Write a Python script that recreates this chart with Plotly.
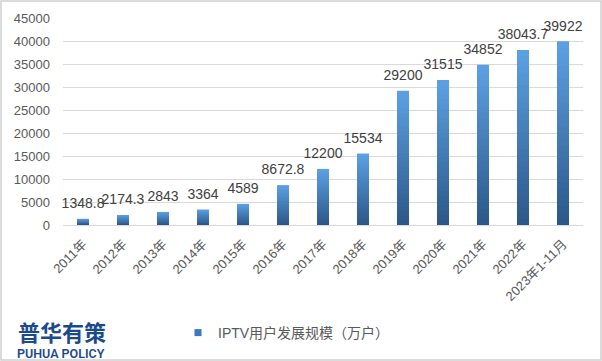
import plotly.graph_objects as go

categories = ["2011年", "2012年", "2013年", "2014年", "2015年", "2016年", "2017年",
              "2018年", "2019年", "2020年", "2021年", "2022年", "2023年1-11月"]
values = [1348.8, 2174.3, 2843, 3364, 4589, 8672.8, 12200, 15534, 29200, 31515, 34852, 38043.7, 39922]
value_labels = ["1348.8", "2174.3", "2843", "3364", "4589", "8672.8", "12200", "15534",
                "29200", "31515", "34852", "38043.7", "39922"]
series_name = "IPTV用户发展规模（万户）"
y_ticks = [0, 5000, 10000, 15000, 20000, 25000, 30000, 35000, 40000, 45000]

W, H = 602, 361
L, R, T, B = 63, 19, 18, 136
pw, ph = W - L - R, H - T - B

def px_x(x):
    return (x - L) / pw

def px_y(y):
    return (H - B - y) / ph

top_c = (92, 160, 226)
bot_c = (43, 86, 134)

def mix(f):
    r = [round(bot_c[i] + (top_c[i] - bot_c[i]) * f) for i in range(3)]
    return "rgb(%d,%d,%d)" % tuple(r)

FONT = "Liberation Sans, Noto Sans CJK SC, sans-serif"
fig = go.Figure()
N = 30
for k in range(N):
    frac = (N - k) / N
    fig.add_trace(go.Bar(
        x=categories, y=[v * frac for v in values],
        marker=dict(color=mix(frac), line=dict(width=0)),
        showlegend=False, hoverinfo="skip",
    ))

# data labels
fig.add_trace(go.Scatter(
    x=categories, y=values, mode="markers+text", text=value_labels,
    textposition="top center", marker=dict(size=10, opacity=0),
    textfont=dict(size=14, color="#404040", family=FONT),
    showlegend=False, hoverinfo="skip", cliponaxis=False,
))

fig.add_trace(go.Scatter(
    x=[None], y=[None], mode="markers", name=series_name,
    marker=dict(symbol="square", size=7, color="rgb(60,120,190)"),
))

fig.update_layout(
    width=W, height=H, barmode="overlay", bargap=0.7,
    margin=dict(l=L, r=R, t=T, b=B, autoexpand=False),
    paper_bgcolor="white", plot_bgcolor="white",
    font=dict(family=FONT, size=13, color="#595959"),
    showlegend=True,
    legend=dict(orientation="h", x=px_x(178), y=px_y(333), xanchor="left", yanchor="middle",
                font=dict(size=14, color="#595959"), itemwidth=30),
)
fig.update_xaxes(range=[-0.5, len(categories) - 0.5], tickangle=-45,
                 tickfont=dict(size=13, color="#595959"), showgrid=False,
                 showline=False, ticks="", automargin=False, ticklabelstandoff=8)
fig.update_yaxes(range=[0, 45000], tickvals=y_ticks, ticktext=[str(t) for t in y_ticks],
                 showgrid=True, gridcolor="#D9D9D9",
                 gridwidth=1, zeroline=True, zerolinecolor="#D9D9D9", zerolinewidth=1,
                 tickfont=dict(size=13, color="#595959"), ticklabelstandoff=12, automargin=False)

fig.add_annotation(text="<b>普华有策</b>", xref="paper", yref="paper", x=px_x(16), y=px_y(331),
                   xanchor="left", yanchor="middle", showarrow=False,
                   font=dict(size=22, color="#1B4A8A", family="Noto Sans CJK SC"))
fig.add_annotation(text="PUHUA POLICY", xref="paper", yref="paper", x=px_x(15), y=px_y(353),
                   xanchor="left", yanchor="middle", showarrow=False,
                   font=dict(size=12.5, color="#1B4A8A", family="Roboto", weight=600))
fig.add_shape(type="rect", xref="paper", yref="paper",
              x0=px_x(1), x1=px_x(601), y0=px_y(360), y1=px_y(1),
              line=dict(color="#D0D0D0", width=1.5), fillcolor="rgba(0,0,0,0)", layer="below")

fig.write_html("out.html", config={"displayModeBar": False},
               post_script="document.body.style.margin='0';document.body.style.overflow='hidden';")
